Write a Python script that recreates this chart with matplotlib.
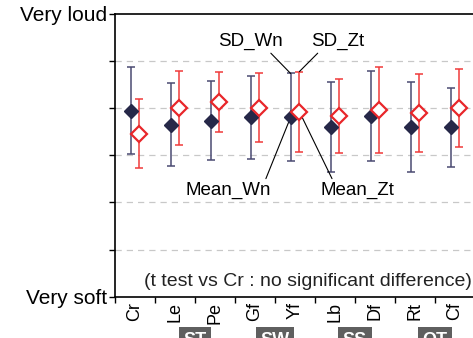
import numpy as np
import matplotlib.pyplot as plt
from matplotlib.transforms import blended_transform_factory

plt.rcParams['font.family'] = ['Liberation Sans', 'DejaVu Sans']

cats = ["Cr", "Le", "Pe", "Gf", "Yf", "Lb", "Df", "Rt", "Cf"]
wn_mean = [4.94, 4.64, 4.73, 4.80, 4.80, 4.60, 4.83, 4.59, 4.59]
wn_sd = [0.92, 0.88, 0.83, 0.88, 0.93, 0.95, 0.95, 0.95, 0.84]
zt_mean = [4.45, 5.00, 5.13, 5.00, 4.92, 4.83, 4.96, 4.89, 5.00]
zt_sd = [0.73, 0.78, 0.64, 0.73, 0.85, 0.79, 0.91, 0.83, 0.82]
groups = ["ST", "SW", "SS", "OT"]
group_pos = [1.5, 3.5, 5.5, 7.5]


def main():
    fig = plt.figure(figsize=(4.73, 3.38), dpi=100)
    ax = fig.add_axes([115/473, 1-296.7/338, 1-115/473, (296.7-13.5)/338])

    x = np.arange(len(cats))
    off = 0.11

    ax.errorbar(x - off, wn_mean, yerr=wn_sd, fmt='none', ecolor='#4a4a72',
                elinewidth=1.1, capsize=3, capthick=1.1, zorder=3)
    ax.errorbar(x + off, zt_mean, yerr=zt_sd, fmt='none', ecolor='#f03a3a',
                elinewidth=1.1, capsize=3, capthick=1.1, zorder=3)
    ax.plot(x - off, wn_mean, 'D', color='#262848', markersize=6.8, zorder=4)
    ax.plot(x + off, zt_mean, 'D', markerfacecolor='white', markeredgecolor='#e8262a',
            markeredgewidth=1.6, markersize=8.2, linestyle='none', zorder=5)

    ax.set_xlim(-0.5, 8.45)
    ax.set_ylim(1, 7)
    for yv in range(2, 7):
        ax.axhline(yv, color='#c8c8c8', linestyle=(0, (5, 4)), linewidth=0.9, zorder=1)

    ax.set_yticks(range(1, 8))
    ax.set_yticklabels(["Very soft", "", "", "", "", "", "Very loud"], fontsize=15)
    ax.set_xticks(x)
    ax.set_xticklabels(cats, rotation=90, fontsize=13)
    ax.set_xticks(np.arange(-0.5, 8.5, 1), minor=True)
    ax.tick_params(axis='x', which='major', length=0, pad=4)
    ax.tick_params(axis='x', which='minor', length=4, width=1, direction='out')
    ax.tick_params(axis='y', length=4, width=1, direction='out', pad=2)
    ax.spines['right'].set_visible(False)
    for s in ['top', 'left', 'bottom']:
        ax.spines[s].set_linewidth(1.2)

    lp = dict(arrowstyle='-', color='black', lw=0.8, shrinkA=0, shrinkB=0)
    i = 4
    ax.annotate("SD_Wn", xy=(x[i] - off, wn_mean[i] + wn_sd[i]), xytext=(2.875, 6.40),
                ha='center', va='center', fontsize=13.5,
                arrowprops=dict(lp, relpos=(0.78, 0)))
    ax.annotate("SD_Zt", xy=(x[i] + off, zt_mean[i] + zt_sd[i]), xytext=(5.075, 6.40),
                ha='center', va='center', fontsize=13.5,
                arrowprops=dict(lp, relpos=(0.17, 0)))
    ax.annotate("Mean_Wn", xy=(x[i] - off, wn_mean[i]), xytext=(2.325, 3.26),
                ha='center', va='center', fontsize=13.5,
                arrowprops=dict(lp, relpos=(0.93, 1)))
    ax.annotate("Mean_Zt", xy=(x[i] + off, zt_mean[i]), xytext=(5.55, 3.26),
                ha='center', va='center', fontsize=13.5,
                arrowprops=dict(lp, relpos=(0.18, 1)))

    ax.text(8.42, 1.32, "(t test vs Cr : no significant difference)", ha='right',
            va='center', fontsize=14, color='#222222')

    tr = blended_transform_factory(ax.transData, fig.transFigure)
    for g, p in zip(groups, group_pos):
        ax.text(p, 1 - 332/338, g, transform=tr, ha='center', va='top', color='white',
                fontsize=13, fontweight='bold',
                bbox=dict(boxstyle='square,pad=0.25', facecolor='#5f5f5f', edgecolor='none'),
                clip_on=False)

    fig.savefig("out.png", dpi=100)


if __name__ == "__main__":
    main()
